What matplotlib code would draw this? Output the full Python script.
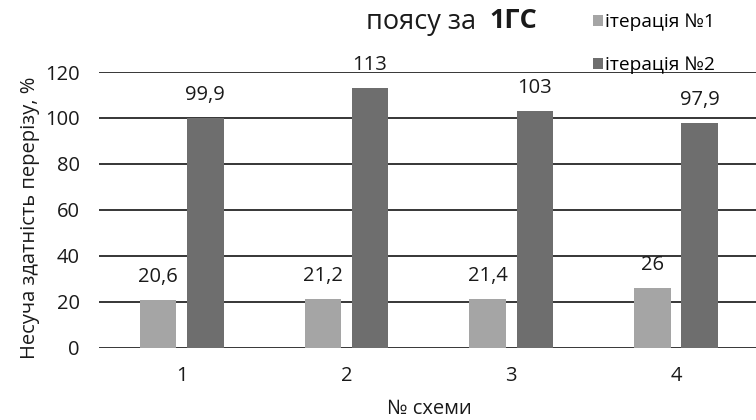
import matplotlib
matplotlib.use("Agg")
import matplotlib.pyplot as plt
from matplotlib.patches import Patch
import numpy as np

plt.rcParams['font.family'] = ['Open Sans', 'DejaVu Sans']

schemes = ["1", "2", "3", "4"]
iter1 = [20.6, 21.2, 21.4, 26]
iter2 = [99.9, 113, 103, 97.9]
series_names = ["ітерація №1", "ітерація №2"]
y_ticks = [0, 20, 40, 60, 80, 100, 120]

color_light = "#A5A5A5"
color_dark = "#6E6E6E"
text_color = "#1a1a1a"
fs = 14.5

W, H = 756, 420
fig = plt.figure(figsize=(W / 100, H / 100), dpi=100)

left, right, bottom_px, top_px = 99.3, 758.4, 347.7, 72.0
ax = fig.add_axes([left / W, (H - bottom_px) / H, (right - left) / W, (bottom_px - top_px) / H])

x = np.arange(len(schemes))
bw = 0.222
off = 0.143
b1 = ax.bar(x - off, iter1, width=bw, color=color_light, zorder=3)
b2 = ax.bar(x + off, iter2, width=bw, color=color_dark, zorder=3)


def fmt(v):
    if float(v).is_integer():
        return f"{int(v)}"
    return f"{v}".replace(".", ",")


for bars, vals in ((b1, iter1), (b2, iter2)):
    for rect, v in zip(bars, vals):
        ax.annotate(fmt(v), (rect.get_x() + rect.get_width() / 2, v),
                    xytext=(0, 16.5), textcoords="offset points",
                    ha="center", va="center", fontsize=fs, color=text_color,
                    zorder=5)

ax.set_xlim(-0.5, len(schemes) - 0.5)
ax.set_ylim(0, 120)
ax.set_yticks(y_ticks)
ax.set_xticks(x)
ax.set_xticklabels(schemes)
ax.tick_params(axis="both", length=0, labelsize=fs, colors=text_color)
ax.tick_params(axis="y", pad=14)
ax.tick_params(axis="x", pad=13)
ax.grid(axis="y", color="black", linewidth=1.1, zorder=0)
ax.set_axisbelow(True)
for s in ax.spines.values():
    s.set_visible(False)

fig.text(428.9 / W, (H - 409) / H, "№ схеми", ha="center", va="center",
         fontsize=fs, color=text_color)
fig.text(30 / W, (H - 218) / H, "Несуча здатність перерізу, %", rotation=90,
         ha="center", va="center", fontsize=fs, color=text_color)

# title (last line visible)
fig.text(476 / W, (H - 28.5) / H, "поясу за", ha="right", va="baseline",
         fontsize=19.5, color=text_color)
fig.text(489 / W, (H - 28.5) / H, "1ГС", ha="left", va="baseline",
         fontsize=19.5, fontweight="bold", color=text_color)

handles = [Patch(facecolor=color_light), Patch(facecolor=color_dark)]
fig.legend(handles, series_names, loc="upper left",
           bbox_to_anchor=(593 / W, 1 - 13 / H), frameon=False,
           fontsize=13.8, handlelength=0.5, handleheight=0.5,
           handletextpad=0.15, labelspacing=1.3, borderpad=0, borderaxespad=0)

fig.savefig("out.png", dpi=100)
